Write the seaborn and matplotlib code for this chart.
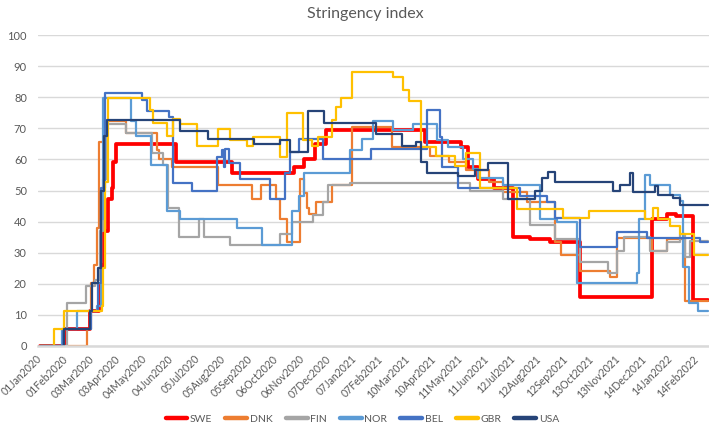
import matplotlib
matplotlib.use('Agg')
import matplotlib.pyplot as plt
import matplotlib.transforms as mtransforms
from matplotlib.lines import Line2D
import pandas as pd
import seaborn as sns

# Stringency index step series, one pair of lists per country (change dates, values)
SWE_DATES = ['2020-01-01', '2020-01-31', '2020-02-29', '2020-03-11', '2020-03-14', '2020-03-17',
             '2020-03-21', '2020-03-26', '2020-03-27', '2020-03-31', '2020-06-10', '2020-08-15',
             '2020-10-27', '2020-11-08', '2020-11-20', '2020-12-04', '2021-03-30', '2021-05-12',
             '2021-05-20', '2021-06-01', '2021-06-20', '2021-07-12', '2021-08-01', '2021-08-25',
             '2021-09-29', '2021-12-23', '2022-01-09', '2022-01-20', '2022-02-09', '2022-02-27']
SWE_VALUES = [0, 5.56, 11.11, 19.44, 25.93, 37.04,
              47.22, 50.93, 59.26, 64.81, 59.26, 55.56,
              57.41, 60.19, 64.81, 69.44, 65.74, 63.89,
              57.41, 53.70, 50.93, 35.19, 34.26, 33.33,
              15.74, 40.74, 42.59, 41.67, 14.81, 14.81]

DNK_DATES = ['2020-01-01', '2020-02-26', '2020-03-02', '2020-03-05', '2020-03-09', '2020-03-11',
             '2020-03-17', '2020-04-12', '2020-05-18', '2020-05-21', '2020-06-05', '2020-07-29',
             '2020-09-07', '2020-09-18', '2020-10-06', '2020-10-10', '2020-10-19', '2020-11-03',
             '2020-11-07', '2020-11-11', '2020-11-14', '2020-11-22', '2020-12-10', '2021-01-03',
             '2021-02-19', '2021-04-05', '2021-04-28', '2021-05-18', '2021-06-14', '2021-06-30',
             '2021-07-28', '2021-08-30', '2021-09-07', '2021-09-29', '2021-11-03', '2021-11-11',
             '2021-12-23', '2022-01-09', '2022-01-31', '2022-02-27']
DNK_VALUES = [0, 5.56, 20.37, 25.93, 37.96, 65.74,
              72.22, 68.52, 62.96, 60.19, 57.41, 51.85,
              47.22, 51.85, 47.22, 40.74, 33.33, 53.70,
              49.07, 44.44, 42.59, 46.30, 51.85, 70.37,
              63.89, 61.11, 59.26, 56.48, 52.78, 49.54,
              46.30, 33.33, 29.17, 24.07, 22.22, 34.72,
              30.56, 34.26, 14.35, 14.35]

FIN_DATES = ['2020-01-01', '2020-02-02', '2020-02-25', '2020-03-06', '2020-03-12', '2020-03-16',
             '2020-03-20', '2020-04-12', '2020-05-12', '2020-05-25', '2020-05-31', '2020-06-13',
             '2020-07-07', '2020-07-13', '2020-08-12', '2020-10-10', '2020-10-25', '2020-11-18',
             '2020-11-30', '2020-12-06', '2021-01-01', '2021-05-22', '2021-06-30', '2021-08-01',
             '2021-08-30', '2021-09-29', '2021-11-01', '2021-11-11', '2021-11-20', '2021-12-20',
             '2022-01-09', '2022-01-25', '2022-01-31', '2022-02-06', '2022-02-27']
FIN_VALUES = [0, 13.89, 19.44, 21.30, 37.04, 53.70,
              71.30, 68.52, 62.04, 58.33, 44.44, 35.19,
              40.74, 35.19, 32.41, 36.11, 39.81, 42.13,
              46.30, 51.85, 52.31, 50.00, 47.22, 38.89,
              34.26, 26.85, 23.61, 30.56, 35.19, 30.56,
              33.33, 36.11, 28.70, 33.80, 33.80]

NOR_DATES = ['2020-01-01', '2020-01-27', '2020-02-14', '2020-03-08', '2020-03-13', '2020-03-16',
             '2020-04-18', '2020-04-24', '2020-05-11', '2020-05-30', '2020-06-14', '2020-08-20',
             '2020-09-19', '2020-10-25', '2020-11-02', '2020-11-08', '2021-01-01', '2021-01-15',
             '2021-01-28', '2021-02-21', '2021-03-16', '2021-04-13', '2021-04-26', '2021-05-14',
             '2021-05-26', '2021-06-01', '2021-06-30', '2021-08-13', '2021-09-02', '2021-09-25',
             '2021-12-05', '2021-12-08', '2021-12-14', '2021-12-20', '2022-01-13', '2022-01-25',
             '2022-01-28', '2022-02-05', '2022-02-15', '2022-02-27']
NOR_VALUES = [0, 5.56, 11.11, 12.96, 40.74, 79.63,
              72.22, 67.59, 58.33, 43.52, 40.74, 37.96,
              32.41, 43.52, 48.15, 55.56, 62.96, 66.67,
              72.22, 69.44, 71.30, 66.20, 63.89, 60.19,
              56.94, 54.17, 51.85, 40.74, 39.81, 20.37,
              23.61, 40.74, 55.09, 51.85, 48.61, 46.76,
              25.46, 13.89, 11.11, 11.11]

BEL_DATES = ['2020-01-01', '2020-01-28', '2020-03-01', '2020-03-10', '2020-03-13', '2020-03-18',
             '2020-05-01', '2020-05-07', '2020-06-02', '2020-06-06', '2020-06-29', '2020-07-28',
             '2020-08-03', '2020-08-05', '2020-08-07', '2020-08-11', '2020-08-24', '2020-09-28',
             '2020-10-16', '2020-10-22', '2020-11-02', '2020-11-30', '2021-01-26', '2021-04-01',
             '2021-04-17', '2021-04-19', '2021-05-08', '2021-07-20', '2021-08-21', '2021-08-30',
             '2021-09-29', '2021-11-11', '2021-12-17', '2022-02-17', '2022-02-27']
BEL_VALUES = [0, 5.56, 11.11, 20.37, 50.93, 81.48,
              79.17, 75.46, 73.61, 52.31, 50.00, 60.65,
              62.96, 57.41, 63.43, 58.80, 53.70, 47.22,
              55.56, 62.50, 66.67, 60.19, 63.43, 75.93,
              67.13, 57.41, 50.93, 48.15, 46.30, 41.20,
              31.94, 36.57, 34.72, 33.33, 33.33]

GBR_DATES = ['2020-01-01', '2020-01-18', '2020-01-30', '2020-03-14', '2020-03-16', '2020-03-18',
             '2020-03-21', '2020-05-10', '2020-05-13', '2020-05-30', '2020-06-06', '2020-06-14',
             '2020-07-04', '2020-07-29', '2020-08-12', '2020-09-01', '2020-09-08', '2020-10-10',
             '2020-10-19', '2020-11-06', '2020-11-17', '2020-11-24', '2020-12-10', '2020-12-15',
             '2020-12-21', '2021-01-03', '2021-02-21', '2021-03-04', '2021-03-11', '2021-03-25',
             '2021-04-12', '2021-05-05', '2021-05-17', '2021-06-03', '2021-07-17', '2021-09-09',
             '2021-10-10', '2021-12-14', '2021-12-24', '2021-12-30', '2022-01-13', '2022-01-25',
             '2022-02-10', '2022-02-27']
GBR_VALUES = [0, 5.56, 11.11, 12.96, 25.00, 52.78,
              79.63, 75.93, 71.76, 67.59, 73.15, 71.30,
              64.35, 69.91, 66.20, 64.35, 67.13, 60.65,
              75.00, 66.20, 64.35, 67.13, 72.69, 76.85,
              79.63, 87.96, 86.57, 82.41, 78.70, 63.89,
              61.11, 57.87, 62.04, 50.93, 43.98, 41.20,
              43.52, 40.74, 44.44, 40.74, 38.43, 36.11,
              29.17, 29.17]

USA_DATES = ['2020-01-01', '2020-01-30', '2020-02-29', '2020-03-03', '2020-03-10', '2020-03-13',
             '2020-03-17', '2020-03-20', '2020-06-14', '2020-07-17', '2020-09-10', '2020-10-10',
             '2020-10-22', '2020-11-12', '2020-12-01', '2021-02-01', '2021-03-03', '2021-03-20',
             '2021-03-26', '2021-04-01', '2021-05-08', '2021-05-28', '2021-06-12', '2021-07-06',
             '2021-08-07', '2021-08-15', '2021-08-22', '2021-08-30', '2021-11-07', '2021-11-15',
             '2021-11-27', '2021-11-30', '2021-12-26', '2021-12-30', '2022-01-16', '2022-01-25',
             '2022-02-27']
USA_VALUES = [0, 5.56, 11.11, 20.37, 25.00, 50.00,
              67.59, 72.69, 68.98, 66.67, 64.81, 66.20,
              62.50, 75.46, 71.76, 68.06, 64.35, 65.74,
              59.26, 55.56, 54.63, 56.48, 58.80, 47.22,
              50.00, 54.17, 56.02, 52.78, 50.00, 51.85,
              55.56, 49.54, 51.39, 48.61, 47.69, 45.37,
              45.37]

COUNTRIES = ['SWE', 'DNK', 'FIN', 'NOR', 'BEL', 'GBR', 'USA']
TICK_LABELS = ['01Jan2020', '01Feb2020', '03Mar2020', '03Apr2020', '04May2020', '04Jun2020',
               '05Jul2020', '05Aug2020', '05Sep2020', '06Oct2020', '06Nov2020', '07Dec2020',
               '07Jan2021', '07Feb2021', '10Mar2021', '10Apr2021', '11May2021', '11Jun2021',
               '12Jul2021', '12Aug2021', '12Sep2021', '13Oct2021', '13Nov2021', '14Dec2021',
               '14Jan2022', '14Feb2022']

palette = {'SWE': '#FF0000', 'DNK': '#ED7D31', 'FIN': '#A5A5A5', 'NOR': '#5B9BD5',
           'BEL': '#4472C4', 'GBR': '#FFC000', 'USA': '#264478'}
widths = {c: 1.6 for c in COUNTRIES}
widths['SWE'] = 2.7

series = {'SWE': (SWE_DATES, SWE_VALUES), 'DNK': (DNK_DATES, DNK_VALUES),
          'FIN': (FIN_DATES, FIN_VALUES), 'NOR': (NOR_DATES, NOR_VALUES),
          'BEL': (BEL_DATES, BEL_VALUES), 'GBR': (GBR_DATES, GBR_VALUES),
          'USA': (USA_DATES, USA_VALUES)}
frames = []
for c in COUNTRIES:
    d, v = series[c]
    frames.append(pd.DataFrame({'date': pd.to_datetime(d), 'index': v, 'country': c}))
df = pd.concat(frames, ignore_index=True)

sns.set_style('white')
plt.rcParams['font.family'] = ['Lato', 'DejaVu Sans']
text_col = '#595959'

fig = plt.figure(figsize=(7.09, 4.28), dpi=100)
ax = fig.add_axes([38 / 709, 1 - 346 / 428, 1 - 38 / 709, (346 - 35) / 428])

sns.lineplot(data=df, x='date', y='index', hue='country', size='country',
             hue_order=COUNTRIES, size_order=COUNTRIES, palette=palette, sizes=widths,
             drawstyle='steps-post', estimator=None, legend=False, ax=ax)

ax.set_ylim(0, 100)
ax.set_xlim(pd.Timestamp('2019-12-30'), pd.Timestamp('2022-02-28'))
ax.set_yticks(range(0, 101, 10))
ax.yaxis.grid(True, color='#D9D9D9', lw=1)
ax.xaxis.grid(False)
ax.set_axisbelow(True)
for s in ['top', 'right', 'left']:
    ax.spines[s].set_visible(False)
ax.spines['bottom'].set_color('#D9D9D9')
ax.spines['bottom'].set_linewidth(1.8)

tick_dates = pd.to_datetime(TICK_LABELS, format='%d%b%Y')
ax.set_xticks(tick_dates)
ax.set_xticklabels(TICK_LABELS, rotation=45, ha='right', va='center',
                   rotation_mode='anchor', fontsize=7.6, color=text_col)
# nudge the slanted labels a little to the right, as in the original
shift = mtransforms.ScaledTranslation(4 / 100, 0, fig.dpi_scale_trans)
for lab in ax.get_xticklabels():
    lab.set_transform(lab.get_transform() + shift)
ax.tick_params(axis='both', length=0)
ax.tick_params(axis='x', pad=8)
ax.tick_params(axis='y', labelsize=8, labelcolor=text_col, pad=8)
ax.set_xlabel('')
ax.set_ylabel('')

fig.text(0.515, 0.967, 'Stringency index', ha='center', va='center', fontsize=11.5, color=text_col)

handles = [Line2D([], [], color=palette[c], lw=3.2) for c in COUNTRIES]
fig.legend(handles, COUNTRIES, loc='center', bbox_to_anchor=(0.511, 0.02), ncol=7,
           frameon=False, fontsize=7.5, handlelength=2.1, handletextpad=0.25,
           columnspacing=1.25, labelcolor=text_col, borderpad=0.1)

fig.savefig('out.png', dpi=100)
